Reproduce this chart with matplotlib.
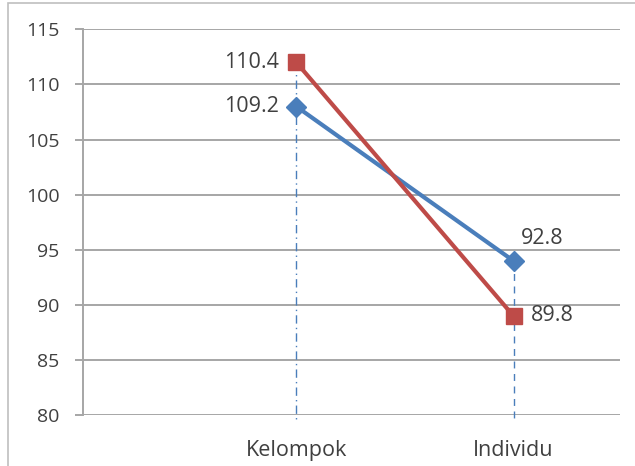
import matplotlib
matplotlib.use("Agg")
import matplotlib.pyplot as plt
from matplotlib.patches import Rectangle
import numpy as np

categories = ["Kelompok", "Individu"]
blue_values = [108, 94]
red_values = [112, 89]
blue_labels = ["109.2", "92.8"]
red_labels = ["110.4", "89.8"]
y_ticks = [80, 85, 90, 95, 100, 105, 110, 115]

BLUE = "#4A7EBB"
RED = "#BE4B48"
GRID = "#A6A6A6"
TXT = "#404040"
FONT = ["Open Sans", "DejaVu Sans"]
FS_TICK = 14
FS = 15.5

fig = plt.figure(figsize=(6.35, 4.66), dpi=100)
fig.patch.set_facecolor("white")
fig.patches.append(Rectangle((8 / 635, -0.1), 1.2, (466 - 3) / 466 + 0.1,
                             transform=fig.transFigure, fill=False,
                             edgecolor="#BFBFBF", linewidth=1.2))

ax = fig.add_axes([83 / 635, (466 - 415.3) / 466, (620 - 83) / 635, (415.3 - 29.3) / 466])
x = np.arange(1, len(categories) + 1)

ax.set_xlim(0.018, 2.49)
ax.set_ylim(min(y_ticks), max(y_ticks))
ax.set_yticks(y_ticks)
ax.set_yticklabels([str(t) for t in y_ticks], fontsize=FS_TICK, color=TXT, family=FONT)
ax.yaxis.grid(True, color=GRID, linewidth=1.4)
ax.set_axisbelow(True)
ax.tick_params(axis="y", length=6, color=GRID, width=1.4, pad=11)
ax.set_xticks(x)
ax.set_xticklabels(categories, fontsize=FS, color=TXT, family=FONT)
ax.tick_params(axis="x", length=0, pad=18)
for s in ["top", "right", "bottom"]:
    ax.spines[s].set_visible(False)
ax.spines["left"].set_color(GRID)
ax.spines["left"].set_linewidth(1.4)

tops = np.maximum(blue_values, red_values)
styles = [(0, (6, 3, 1, 3)), (0, (5, 4))]
for xi, top, ls in zip(x, tops, styles):
    ax.plot([xi, xi], [top, 79.7], color=BLUE, linewidth=1, linestyle=ls,
            clip_on=False, zorder=2)

ax.plot(x, blue_values, color=BLUE, linewidth=3, marker="D", markersize=10,
        zorder=3, clip_on=False)
ax.plot(x, red_values, color=RED, linewidth=3, marker="s", markersize=12,
        zorder=4, clip_on=False)

# data labels
ax.annotate(red_labels[0], (x[0], red_values[0]), xytext=(-17, 0),
            textcoords="offset pixels", ha="right", va="center",
            fontsize=FS, color=TXT, family=FONT)
ax.annotate(blue_labels[0], (x[0], blue_values[0]), xytext=(-17, 0),
            textcoords="offset pixels", ha="right", va="center",
            fontsize=FS, color=TXT, family=FONT)
ax.annotate(blue_labels[1], (x[1], blue_values[1]), xytext=(7, 22),
            textcoords="offset pixels", ha="left", va="center",
            fontsize=FS, color=TXT, family=FONT)
ax.annotate(red_labels[1], (x[1], red_values[1]), xytext=(17, 1),
            textcoords="offset pixels", ha="left", va="center",
            fontsize=FS, color=TXT, family=FONT)

fig.savefig("out.png", dpi=100)
